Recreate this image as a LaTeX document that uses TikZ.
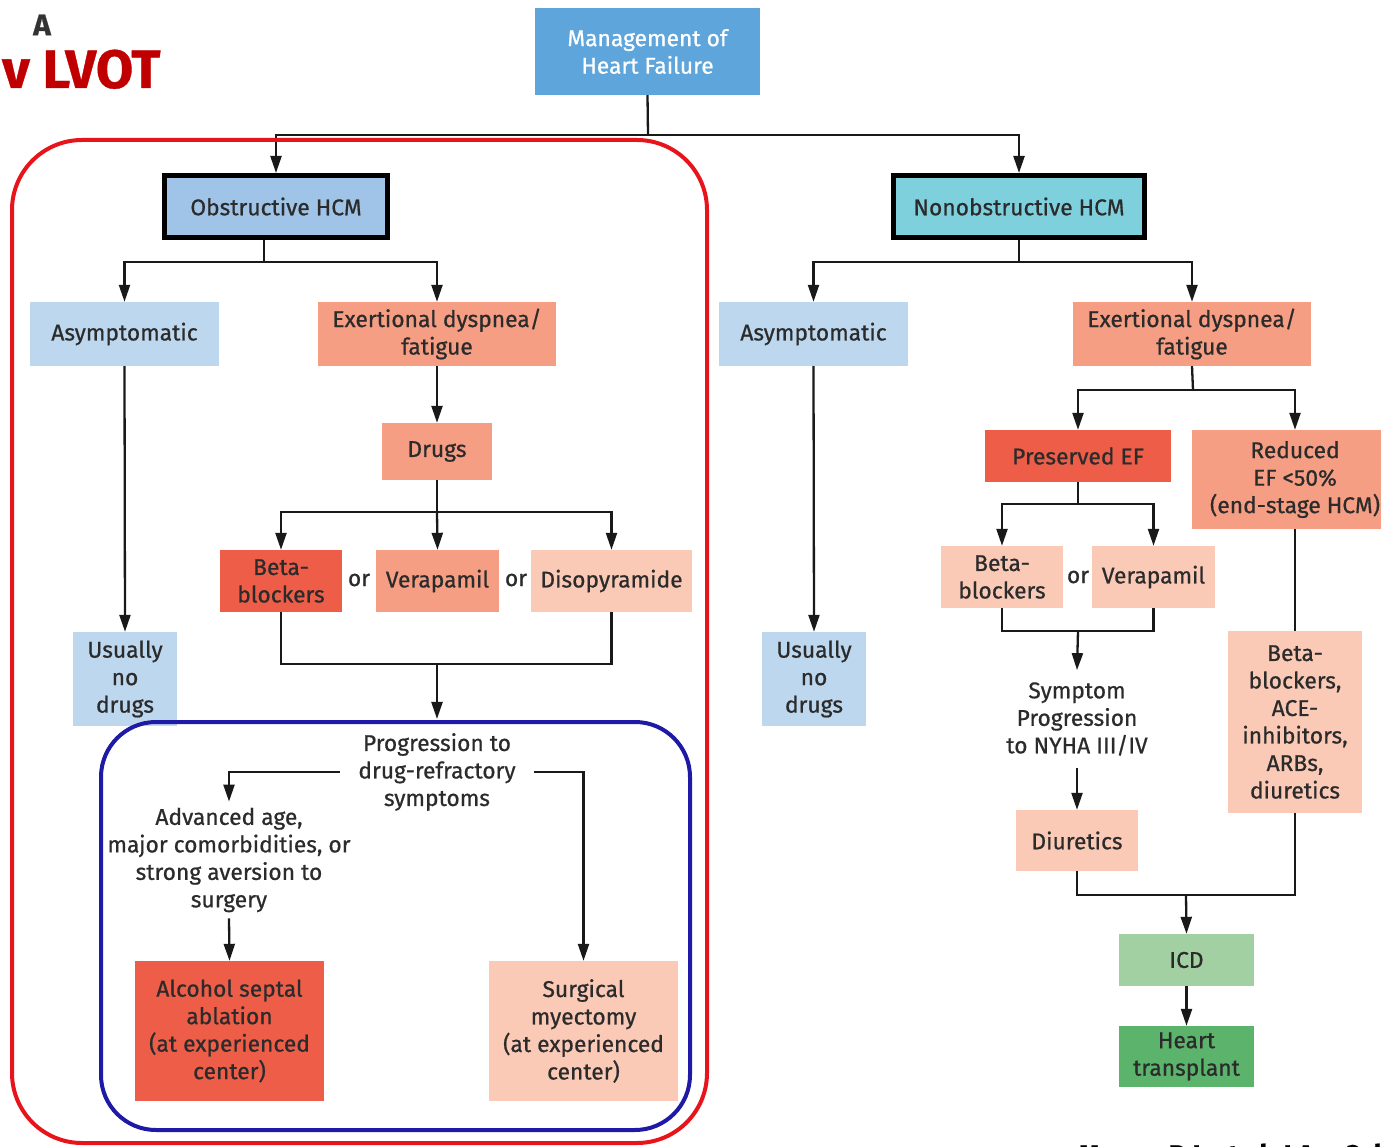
\documentclass[tikz,border=0pt]{standalone}
\usepackage{fontspec}
\setmainfont{Fira Sans}[FakeBold=0.7]
\newfontfamily\headfont{Fira Sans}[FakeBold=1.5]
\usetikzlibrary{arrows.meta}

\definecolor{txt}{HTML}{2B2B2B}
\definecolor{hfblue}{HTML}{5DA5DA}
\definecolor{obsblue}{HTML}{9FC4E8}
\definecolor{teal}{HTML}{7FD0DD}
\definecolor{ltblue}{HTML}{BDD7EE}
\definecolor{salmon}{HTML}{F59E83}
\definecolor{redbox}{HTML}{EE5D48}
\definecolor{peach}{HTML}{FBCAB7}
\definecolor{ltgreen}{HTML}{A2D0A3}
\definecolor{green}{HTML}{5CB46C}
\definecolor{frame}{HTML}{E8141B}
\definecolor{navy}{HTML}{1E1AA6}
\definecolor{title}{HTML}{C00000}

\begin{document}
\begin{tikzpicture}[x=1pt,y=-1pt,
  every node/.style={font=\fontsize{22.8}{27.5}\selectfont, text=txt, align=center},
  box/.style={draw=none, inner sep=0pt},
  hcm/.style={draw=black, line width=5pt, inner sep=0pt},
  plain/.style={inner xsep=0pt, inner ysep=8pt},
  ln/.style={draw=black!90, line width=2.3pt},
  arr/.style={ln, -{Triangle[length=17pt,width=11pt]}}]

\useasboundingbox (0,0) rectangle (1381,1147);

% headings
\node[font=\fontsize{30}{30}\bfseries\selectfont, text=black!80] (lblA) at (42,25) {A};
\node[font=\fontsize{54}{54}\bfseries\selectfont, text=title, anchor=base east] (lvot) at (164,88) {v LVOT};
\node[font=\fontsize{27}{27}\bfseries\selectfont, text=black, anchor=base west] (cite) at (1075,1164) {Maron, B.J. et al. J Am Coll Cardiol};

% top
\node[box, fill=hfblue, text=white, minimum width=225pt, minimum height=87pt] (mgmt) at (647.5,51.5) {Management of\\Heart Failure};
\node[hcm, fill=obsblue, minimum width=223pt, minimum height=62pt] (obs) at (276,206.5) {Obstructive HCM};
\node[hcm, fill=teal, minimum width=251pt, minimum height=62pt] (nonobs) at (1019,206.5) {Nonobstructive HCM};

% obstructive branch
\node[box, fill=ltblue, minimum width=189pt, minimum height=64pt] (asL) at (124.5,334) {Asymptomatic};
\node[box, fill=salmon, minimum width=238pt, minimum height=64pt] (exL) at (437,334) {Exertional dyspnea/\\fatigue};
\node[box, fill=salmon, minimum width=110pt, minimum height=57pt] (drugs) at (437,451.5) {Drugs};
\node[box, fill=redbox, minimum width=122pt, minimum height=62pt] (bbL) at (281,581) {Beta-\\blockers};
\node (orL1) at (359,580) {or};
\node[box, fill=salmon, minimum width=123pt, minimum height=62pt] (verL) at (437.5,581) {Verapamil};
\node (orL2) at (516,580) {or};
\node[box, fill=peach, minimum width=161pt, minimum height=62pt] (disoL) at (611.5,581) {Disopyramide};
\node[box, fill=ltblue, minimum width=104pt, minimum height=94pt] (unL) at (125,679) {Usually\\no\\drugs};
\node[plain, inner xsep=18pt, inner ysep=14pt] (prog) at (437,772) {Progression to\\drug-refractory\\symptoms};
\node[plain, inner ysep=6pt] (adv) at (229,860) {Advanced age,\\major comorbidities, or\\strong aversion to\\surgery};
\node[box, fill=redbox, minimum width=189pt, minimum height=140pt] (alc) at (229.5,1031) {Alcohol septal\\ablation\\(at experienced\\center)};
\node[box, fill=peach, minimum width=189pt, minimum height=140pt] (surg) at (583.5,1031) {Surgical\\myectomy\\(at experienced\\center)};

% nonobstructive branch
\node[box, fill=ltblue, minimum width=189pt, minimum height=64pt] (asR) at (813.5,334) {Asymptomatic};
\node[box, fill=salmon, minimum width=238pt, minimum height=64pt] (exR) at (1192,334) {Exertional dyspnea/\\fatigue};
\node[box, fill=redbox, minimum width=186pt, minimum height=52pt] (pres) at (1078,456) {Preserved EF};
\node[box, fill=salmon, minimum width=206pt, minimum height=99pt] (red) at (1295,479.5) {Reduced\\EF <50\%\\(end-stage HCM)};
\node[box, fill=peach, minimum width=122pt, minimum height=62pt] (bbR) at (1002,577) {Beta-\\blockers};
\node (orR) at (1078,577) {or};
\node[box, fill=peach, minimum width=123pt, minimum height=62pt] (verR) at (1153.5,577) {Verapamil};
\node[box, fill=ltblue, minimum width=104pt, minimum height=94pt] (unR) at (814,679) {Usually\\no\\drugs};
\node[plain, inner ysep=12pt] (symp) at (1077,719) {Symptom\\Progression\\to NYHA III/IV};
\node[box, fill=peach, minimum width=122pt, minimum height=61pt] (diur) at (1077,840.5) {Diuretics};
\node[box, fill=peach, minimum width=134pt, minimum height=182pt] (bace) at (1295,722) {Beta-\\blockers,\\ACE-\\inhibitors,\\ARBs,\\diuretics};
\node[box, fill=ltgreen, minimum width=135pt, minimum height=52pt] (icd) at (1186.5,960) {ICD};
\node[box, fill=green, minimum width=135pt, minimum height=61pt] (ht) at (1186.5,1056.5) {Heart\\transplant};

% junction points
\coordinate (j1) at (648,135);
\coordinate (j2) at (264,262);
\coordinate (j3) at (437,512);
\coordinate (j4) at (437,664);
\coordinate (j5) at (1019,262);
\coordinate (j6) at (1193,390);
\coordinate (j7) at (1078,504);
\coordinate (j8) at (1078,631);
\coordinate (j9) at (1186,895);

% connectors: top
\draw[ln] (mgmt.south) -- (j1);
\draw[arr] (j1) -| (obs.north);
\draw[arr] (j1) -| (nonobs.north);

% connectors: obstructive
\draw[ln] (j2 |- obs.south) -- (j2);
\draw[arr] (j2) -| (asL.north);
\draw[arr] (j2) -| (exL.north);
\draw[arr] (asL.south) -- (unL.north);
\draw[arr] (exL.south) -- (drugs.north);
\draw[ln] (drugs.south) -- (j3);
\draw[arr] (j3) -| (bbL.north);
\draw[arr] (j3) -- (verL.north);
\draw[arr] (j3) -| (disoL.north);
\draw[ln] (bbL.south) |- (j4) -| (disoL.south);
\draw[arr] (j4) -- (prog.north);
\draw[arr] (prog.west) -| (adv.north);
\draw[arr] (prog.east) -| (surg.north);
\draw[arr] (adv.south) -- (alc.north);

% connectors: nonobstructive
\draw[ln] (nonobs.south) -- (j5);
\draw[arr] (j5) -| (asR.north);
\draw[arr] (j5) -| (exR.north);
\draw[arr] (asR.south) -- (unR.north);
\draw[ln] (exR.south) -- (j6);
\draw[arr] (j6) -| (pres.north);
\draw[arr] (j6) -| (red.north);
\draw[ln] (pres.south) -- (j7);
\draw[arr] (j7) -| (bbR.north);
\draw[arr] (j7) -| (verR.north);
\draw[ln] (bbR.south) |- (j8) -| (verR.south);
\draw[arr] (j8) -- (symp.north);
\draw[arr] (symp.south) -- (diur.north);
\draw[ln] (red.south) -- (bace.north);
\draw[ln] (diur.south) |- (j9) -| (bace.south);
\draw[arr] (j9) -- (icd.north);
\draw[arr] (icd.south) -- (ht.north);

% grouping frames
\draw[frame, line width=4pt, rounded corners=70pt] (12,140) rectangle (707,1143);
\draw[navy, line width=4pt, rounded corners=55pt] (101,722) rectangle (690,1130);

\end{tikzpicture}
\end{document}
